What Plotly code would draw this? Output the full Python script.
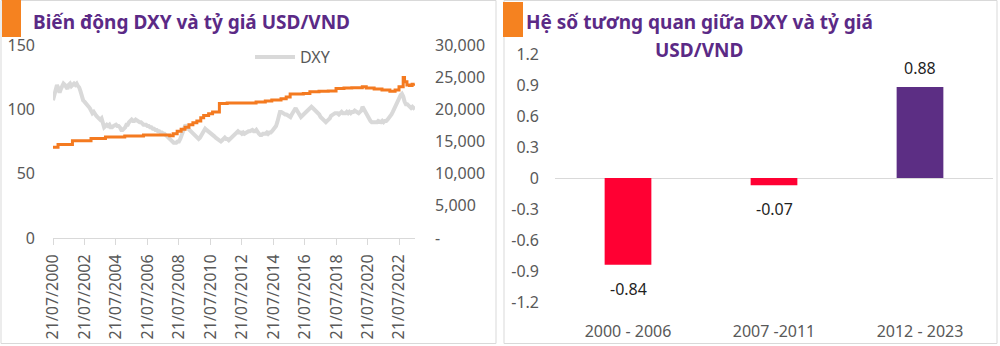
import pandas as pd
import plotly.graph_objects as go

W, H = 1000, 346

# ---- Left panel: DXY index (monthly) and USD/VND rate ----
dxy_values = [
    107, 112, 116, 119, 116, 113,                              # 2000 (Jul-Dec)
    116, 118, 120, 119, 117, 116, 119, 120, 118, 119, 120, 119,  # 2001
    120, 118, 117, 114, 110, 107, 106, 105, 104, 103, 101, 99,   # 2002
    97, 98, 96, 95, 94, 93, 92, 93, 89, 86, 87, 88,              # 2003
    87, 88, 86, 86, 87, 88, 88, 87, 87, 86, 84, 84,              # 2004
    85, 86, 88, 88, 90, 91, 92, 91, 91, 92, 91, 90,              # 2005
    90, 90, 89, 88, 88, 88, 87, 87, 86, 86, 85, 85,              # 2006
    84, 84, 83, 83, 82, 82, 81, 81, 80, 79, 77, 77,              # 2007
    76, 75, 74, 74, 74, 75, 75, 77, 80, 83, 86, 88,              # 2008
    86, 85, 84, 83, 82, 81, 80, 79, 78, 77, 78, 80,              # 2009
    82, 84, 85, 84, 83, 83, 82, 81, 80, 79, 78, 77,              # 2010
    76, 75, 75, 76, 77, 78, 77, 77, 76, 77, 78, 79,              # 2011
    80, 81, 82, 83, 82, 82, 81, 82, 81, 82, 82, 83,              # 2012
    83, 84, 84, 83, 83, 84, 82, 81, 80, 80, 81, 81,              # 2013
    81, 82, 81, 82, 82, 83, 84, 85, 87, 90, 94, 98,              # 2014
    98, 97, 97, 96, 96, 95, 94, 94, 96, 98, 100, 101,            # 2015
    99, 97, 95, 94, 95, 96, 97, 98, 99, 101, 102, 102,           # 2016
    101, 100, 99, 98, 97, 96, 94, 93, 92, 91, 90, 91,            # 2017
    92, 93, 95, 96, 97, 97, 97, 97, 96, 97, 98, 97,              # 2018
    97, 97, 98, 97, 98, 97, 98, 98, 99, 98, 97, 97,              # 2019
    98, 99, 102, 100, 98, 96, 94, 92, 91, 90, 90, 90,            # 2020
    90, 90, 91, 90, 90, 91, 90, 91, 91, 92, 93, 94,              # 2021
    96, 98, 100, 103, 105, 107, 109, 111, 112, 110, 106, 104,    # 2022
    104, 103, 102, 101, 102, 101, 100,                           # 2023 (Jan-Jul)
]
dxy_dates = pd.date_range("2000-07-21", periods=len(dxy_values),
                          freq=pd.DateOffset(months=1))

vnd_dates = [
    "2000-07-21", "2000-11-15", "2001-10-15", "2002-12-20", "2003-11-20",
    "2005-02-10", "2006-04-20", "2007-12-20", "2008-03-10", "2008-06-10",
    "2008-09-10", "2008-12-10", "2009-03-10", "2009-06-10", "2009-09-10",
    "2009-12-10", "2010-02-15", "2010-06-10", "2010-09-10", "2011-02-15",
    "2011-08-15", "2013-06-15", "2014-01-15", "2014-06-15", "2015-01-15",
    "2015-05-15", "2015-08-15", "2016-06-15", "2016-11-15", "2017-06-15",
    "2018-01-15", "2018-07-15", "2019-01-15", "2019-07-15", "2020-03-15",
    "2020-06-15", "2020-12-15", "2021-06-15", "2021-12-15", "2022-04-15",
    "2022-07-15", "2022-10-20", "2022-11-20", "2023-01-15", "2023-03-15",
    "2023-05-15", "2023-07-14",
]
vnd_values = [
    14100, 14550, 15100, 15450, 15700,
    15850, 16000, 15900, 16200, 16600,
    16900, 17200, 17600, 17900, 18200,
    18700, 19050, 19300, 19600, 20900,
    21000, 21150, 21300, 21450, 21650,
    21900, 22400, 22450, 22750, 22800,
    22850, 23250, 23300, 23350, 23500,
    23300, 23150, 23000, 22800, 23000,
    23500, 24950, 24300, 23800, 23700,
    23900, 23950,
]

date_ticks = [f"{y}-07-21" for y in range(2000, 2023, 2)]
left_ticks = [0, 50, 100, 150]
right_ticks = [0, 5000, 10000, 15000, 20000, 25000, 30000]
right_ticktext = ["-", "5,000", "10,000", "15,000", "20,000", "25,000", "30,000"]

# ---- Right panel: correlation coefficients ----
periods = ["2000 - 2006", "2007 -2011", "2012 - 2023"]
correlations = [-0.84, -0.07, 0.88]
corr_ticks = [1.2, 0.9, 0.6, 0.3, 0, -0.3, -0.6, -0.9, -1.2]
corr_ticktext = ["1.2", "0.9", "0.6", "0.3", "0", "-0.3", "-0.6", "-0.9", "-1.2"]

ORANGE = "#F47A20"
GREY_LINE = "#D9D9D9"
PURPLE_TITLE = "#5B2A86"
RED_BAR = "#FF0033"
PURPLE_BAR = "#5C2E84"
TICK = "#595959"
FONT = "Noto Sans"


def px(x):
    return x / W


def py(y):
    return 1 - y / H


fig = go.Figure()

fig.add_trace(go.Scatter(
    x=dxy_dates, y=dxy_values, name="DXY", mode="lines",
    line=dict(color=GREY_LINE, width=4), xaxis="x", yaxis="y",
))
fig.add_trace(go.Scatter(
    x=vnd_dates, y=vnd_values, name="USD/VND", mode="lines",
    line=dict(color=ORANGE, width=3, shape="hv"),
    xaxis="x", yaxis="y2", showlegend=False,
))

bar_colors = [RED_BAR if v < 0 else PURPLE_BAR for v in correlations]
fig.add_trace(go.Bar(
    x=periods, y=correlations, marker=dict(color=bar_colors, line=dict(width=0)),
    width=0.32, xaxis="x3", yaxis="y3", showlegend=False,
))

tickfont = dict(family=FONT, size=16, color=TICK)

fig.update_layout(
    width=W, height=H, autosize=False,
    margin=dict(l=0, r=0, t=0, b=0, autoexpand=False),
    paper_bgcolor="white", plot_bgcolor="white",
    font=dict(family=FONT),
    showlegend=True,
    legend=dict(x=px(250), y=py(57), xanchor="left", yanchor="middle",
                font=dict(family=FONT, size=16, color=TICK),
                bgcolor="rgba(0,0,0,0)", itemwidth=40),
    xaxis=dict(
        domain=[px(53), px(415)], anchor="y", type="date",
        range=["2000-07-21", "2023-07-21"],
        tickvals=date_ticks, tickformat="%d/%m/%Y", tickangle=-90,
        showline=True, linecolor=GREY_LINE, linewidth=1,
        ticks="outside", ticklen=6, tickcolor=GREY_LINE,
        showgrid=False, zeroline=False, tickfont=tickfont,
        ticklabelstandoff=3, automargin=False,
    ),
    yaxis=dict(
        domain=[py(238), py(45)], anchor="x", range=[0, 150],
        tickvals=left_ticks, showgrid=False, zeroline=False,
        showline=False, tickfont=tickfont, ticklabelstandoff=17,
        automargin=False,
    ),
    yaxis2=dict(
        overlaying="y", side="right", anchor="x", range=[0, 30000],
        tickvals=right_ticks, ticktext=right_ticktext,
        showgrid=False, zeroline=False, showline=False,
        tickfont=tickfont, ticklabelstandoff=19, automargin=False,
    ),
    xaxis3=dict(
        domain=[px(555), px(993)], anchor="y3", type="category",
        showline=False, showgrid=False, ticks="", zeroline=False,
        tickfont=tickfont, ticklabelstandoff=18, automargin=False,
    ),
    yaxis3=dict(
        domain=[py(302), py(54)], anchor="x3", range=[-1.2, 1.2],
        tickvals=corr_ticks, ticktext=corr_ticktext,
        showgrid=False, showline=False,
        zeroline=True, zerolinecolor=GREY_LINE, zerolinewidth=1,
        tickfont=tickfont, ticklabelstandoff=15, automargin=False,
    ),
    bargap=0.68,
)

# Value labels on the bars
for period, value in zip(periods, correlations):
    fig.add_annotation(
        x=period, y=value, xref="x3", yref="y3",
        text=f"{value:.2f}", showarrow=False,
        yshift=19 if value >= 0 else -24,
        font=dict(family=FONT, size=16, color="#1F1F1F"),
    )

# Panel titles
title_font = dict(family=FONT, size=19, color=PURPLE_TITLE)
fig.add_annotation(
    x=px(31), y=py(22), xref="paper", yref="paper",
    xanchor="left", yanchor="middle", showarrow=False,
    text="<b>Biến động DXY và tỷ giá USD/VND</b>", font=title_font,
)
fig.add_annotation(
    x=px(699), y=py(22), xref="paper", yref="paper",
    xanchor="center", yanchor="middle", showarrow=False,
    text="<b>Hệ số tương quan giữa DXY và tỷ giá</b>", font=title_font,
)
fig.add_annotation(
    x=px(699), y=py(50), xref="paper", yref="paper",
    xanchor="center", yanchor="middle", showarrow=False,
    text="<b>USD/VND</b>", font=title_font,
)

# Panel frames and orange title markers
for x0, x1 in [(1, 496), (504, 997)]:
    fig.add_shape(type="rect", xref="paper", yref="paper",
                  x0=px(x0), x1=px(x1), y0=py(343.5), y1=py(0.5),
                  line=dict(color="#D9D9D9", width=1), layer="below")
for x0, x1, y0 in [(2, 21, 0), (503, 523, 2)]:
    fig.add_shape(type="rect", xref="paper", yref="paper",
                  x0=px(x0), x1=px(x1), y0=py(37), y1=py(y0),
                  fillcolor="#F58220", line=dict(width=0), layer="above")

fig.write_html("out.html")
